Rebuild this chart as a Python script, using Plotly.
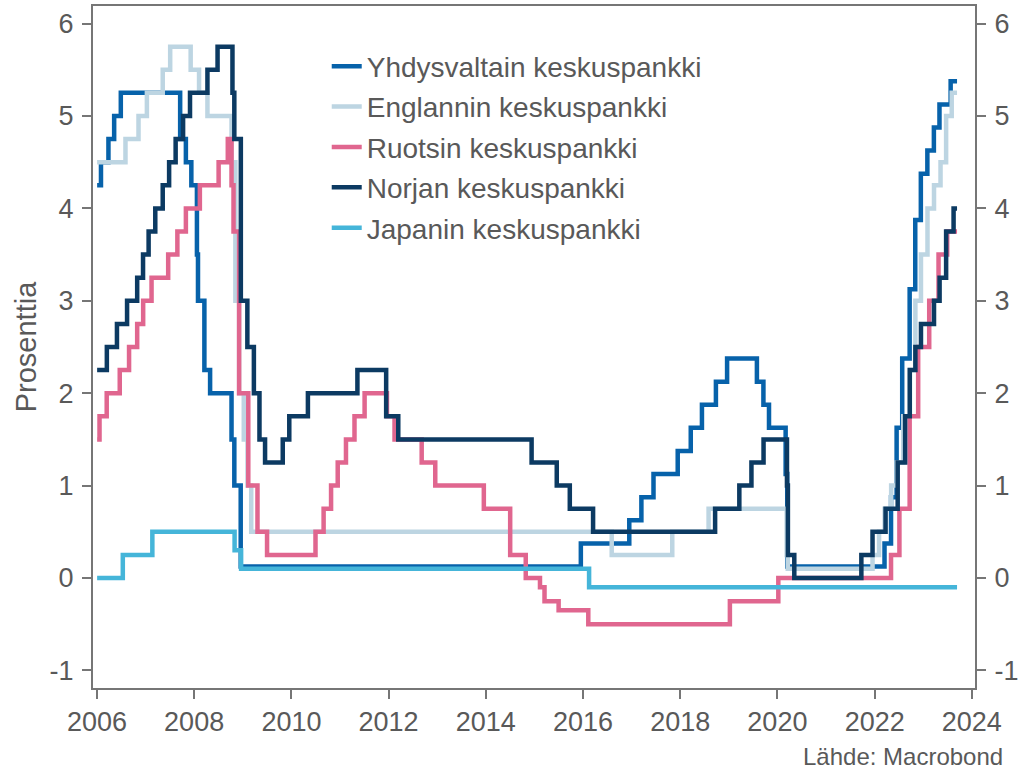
import plotly.graph_objects as go

# ---------------- data (policy rates, %) ----------------
us_dates = ["2006-01-02", "2006-01-31", "2006-03-28", "2006-05-10", "2006-06-29",
            "2007-09-18", "2007-10-31", "2007-12-11", "2008-01-22", "2008-01-30",
            "2008-03-18", "2008-04-30", "2008-10-08", "2008-10-29", "2008-12-16",
            "2015-12-16", "2016-12-14", "2017-03-15", "2017-06-14", "2017-12-13",
            "2018-03-21", "2018-06-13", "2018-09-26", "2018-12-19", "2019-07-31",
            "2019-09-18", "2019-10-30", "2020-03-03", "2020-03-15", "2022-03-16",
            "2022-05-04", "2022-06-15", "2022-07-27", "2022-09-21", "2022-11-02",
            "2022-12-14", "2023-02-01", "2023-03-22", "2023-05-03", "2023-07-26",
            "2023-09-12"]
us_values = [4.25, 4.50, 4.75, 5.00, 5.25,
             4.75, 4.50, 4.25, 3.50, 3.00,
             2.25, 2.00, 1.50, 1.00, 0.125,
             0.375, 0.625, 0.875, 1.125, 1.375,
             1.625, 1.875, 2.125, 2.375, 2.125,
             1.875, 1.625, 1.125, 0.125, 0.375,
             0.875, 1.625, 2.375, 3.125, 3.875,
             4.375, 4.625, 4.875, 5.125, 5.375,
             5.375]

uk_dates = ["2006-01-02", "2006-08-03", "2006-11-09", "2007-01-11", "2007-05-10",
            "2007-07-05", "2007-12-06", "2008-02-07", "2008-04-10", "2008-10-08",
            "2008-11-06", "2008-12-04", "2009-01-08", "2009-02-05", "2009-03-05",
            "2016-08-04", "2017-11-02", "2018-08-02", "2020-03-11", "2020-03-19",
            "2021-12-16", "2022-02-03", "2022-03-17", "2022-05-05", "2022-06-16",
            "2022-08-04", "2022-09-22", "2022-11-03", "2022-12-15", "2023-02-02",
            "2023-03-23", "2023-05-11", "2023-06-22", "2023-08-03", "2023-09-12"]
uk_values = [4.50, 4.75, 5.00, 5.25, 5.50,
             5.75, 5.50, 5.25, 5.00, 4.50,
             3.00, 2.00, 1.50, 1.00, 0.50,
             0.25, 0.50, 0.75, 0.25, 0.10,
             0.25, 0.50, 0.75, 1.00, 1.25,
             1.75, 2.25, 3.00, 3.50, 4.00,
             4.25, 4.50, 5.00, 5.25, 5.25]

se_dates = ["2006-01-02", "2006-01-20", "2006-03-15", "2006-06-21", "2006-08-30",
            "2006-10-30", "2006-12-14", "2007-02-15", "2007-06-20", "2007-08-28",
            "2007-10-31", "2008-02-13", "2008-07-03", "2008-09-10", "2008-10-08",
            "2008-10-23", "2008-12-04", "2009-02-11", "2009-04-21", "2009-07-02",
            "2010-07-01", "2010-08-31", "2010-10-26", "2010-12-15", "2011-02-15",
            "2011-04-20", "2011-07-05", "2011-12-20", "2012-02-15", "2012-09-06",
            "2012-12-17", "2013-12-17", "2014-07-03", "2014-10-28", "2015-02-12",
            "2015-03-18", "2015-07-02", "2016-02-10", "2019-01-09", "2020-01-08",
            "2022-05-04", "2022-07-06", "2022-09-21", "2022-11-24", "2023-02-15",
            "2023-04-26", "2023-06-30", "2023-09-12"]
se_values = [1.50, 1.75, 2.00, 2.25, 2.50,
             2.75, 3.00, 3.25, 3.50, 3.75,
             4.00, 4.25, 4.50, 4.75, 4.25,
             3.75, 2.00, 1.00, 0.50, 0.25,
             0.50, 0.75, 1.00, 1.25, 1.50,
             1.75, 2.00, 1.75, 1.50, 1.25,
             1.00, 0.75, 0.25, 0.00, -0.10,
             -0.25, -0.35, -0.50, -0.25, 0.00,
             0.25, 0.75, 1.75, 2.50, 3.00,
             3.50, 3.75, 3.75]

no_dates = ["2006-01-02", "2006-03-16", "2006-05-31", "2006-08-15", "2006-10-30",
            "2006-12-13", "2007-01-24", "2007-03-15", "2007-05-10", "2007-06-27",
            "2007-08-15", "2007-10-10", "2007-12-01", "2008-04-10", "2008-06-25",
            "2008-10-15", "2008-10-29", "2008-12-17", "2009-02-04", "2009-03-25",
            "2009-05-06", "2009-06-17", "2009-10-28", "2009-12-16", "2010-05-05",
            "2011-05-12", "2011-12-14", "2012-03-14", "2014-12-11", "2015-06-18",
            "2015-09-24", "2016-03-17", "2018-09-20", "2019-03-21", "2019-06-20",
            "2019-09-19", "2020-03-13", "2020-03-20", "2020-05-07", "2021-09-23",
            "2021-12-16", "2022-03-24", "2022-06-23", "2022-08-18", "2022-09-22",
            "2022-11-03", "2022-12-15", "2023-03-23", "2023-05-04", "2023-06-22",
            "2023-08-17", "2023-09-12"]
no_values = [2.25, 2.50, 2.75, 3.00, 3.25,
             3.50, 3.75, 4.00, 4.25, 4.50,
             4.75, 5.00, 5.25, 5.50, 5.75,
             5.25, 4.75, 3.00, 2.50, 2.00,
             1.50, 1.25, 1.50, 1.75, 2.00,
             2.25, 1.75, 1.50, 1.25, 1.00,
             0.75, 0.50, 0.75, 1.00, 1.25,
             1.50, 1.00, 0.25, 0.00, 0.25,
             0.50, 0.75, 1.25, 1.75, 2.25,
             2.50, 2.75, 3.00, 3.25, 3.75,
             4.00, 4.00]

jp_dates = ["2006-01-02", "2006-07-14", "2007-02-21", "2008-10-31", "2008-12-19",
            "2016-02-16", "2023-09-12"]
jp_values = [0.0, 0.25, 0.5, 0.3, 0.1, -0.1, -0.1]

series_names = ["Yhdysvaltain keskuspankki", "Englannin keskuspankki",
                "Ruotsin keskuspankki", "Norjan keskuspankki", "Japanin keskuspankki"]
y_tick_values = [-1, 0, 1, 2, 3, 4, 5, 6]
y_tick_labels = ["-1", "0", "1", "2", "3", "4", "5", "6"]
y_title = "Prosenttia"
source_text = "Lähde: Macrobond"

# ---------------- styling ----------------
colors = ["#0762AA", "#BDD5E2", "#E0668F", "#0C3A62", "#45B5D9"]
FONT = "Liberation Sans, Arial, sans-serif"
TXT = "#595959"
AX = "#767676"
FS = 27

fig = go.Figure()
all_series = [(us_dates, us_values), (uk_dates, uk_values), (se_dates, se_values),
              (no_dates, no_values), (jp_dates, jp_values)]
for i, ((d, v), name, c) in enumerate(zip(all_series, series_names, colors)):
    fig.add_trace(go.Scatter(x=d, y=v, mode="lines", name=name,
                             line=dict(color=c, width=4.5, shape="hv"),
                             legendgroup=str(i)))

# invisible trace to carry the right-hand axis
fig.add_trace(go.Scatter(x=jp_dates, y=jp_values, yaxis="y2", mode="lines",
                         line=dict(width=0), opacity=0, showlegend=False,
                         hoverinfo="skip"))

yr = [-1.19, 6.19]
yax = dict(range=yr, tickvals=y_tick_values, ticktext=y_tick_labels,
           showgrid=False, zeroline=False, showline=True, linecolor=AX, linewidth=2,
           ticks="outside", ticklen=9, tickwidth=2, tickcolor=AX, automargin=False,
           tickfont=dict(family=FONT, size=FS, color=TXT), ticklabelstandoff=3)

fig.update_layout(
    width=1020, height=772,
    margin=dict(l=93, r=45, t=6, b=84, autoexpand=False),
    paper_bgcolor="white", plot_bgcolor="white",
    font=dict(family=FONT, color=TXT),
    xaxis=dict(type="date", range=["2005-12-02", "2024-01-25"],
               tick0="2006-01-01", dtick="M24", tickformat="%Y",
               showgrid=False, zeroline=False, showline=True, mirror=True,
               linecolor=AX, linewidth=2, ticks="outside", ticklen=9,
               tickwidth=2, tickcolor=AX, automargin=False,
               tickfont=dict(family=FONT, size=FS, color=TXT)),
    yaxis=dict(**yax, title=dict(text=y_title, font=dict(family=FONT, size=29, color=TXT),
                                 standoff=4)),
    yaxis2=dict(**yax, overlaying="y", side="right"),
    legend=dict(x=0.265, y=0.948, xanchor="left", yanchor="top",
                font=dict(family=FONT, size=28, color=TXT),
                bgcolor="rgba(0,0,0,0)", tracegroupgap=1),
    annotations=[dict(text=source_text, xref="paper", yref="paper",
                      x=1.034, y=-0.101, xanchor="right", yanchor="middle",
                      showarrow=False, font=dict(family=FONT, size=24, color=TXT))],
    showlegend=True,
)

fig.write_html("out.html", config={"displayModeBar": False},
               post_script="document.body.style.margin='0px';")
